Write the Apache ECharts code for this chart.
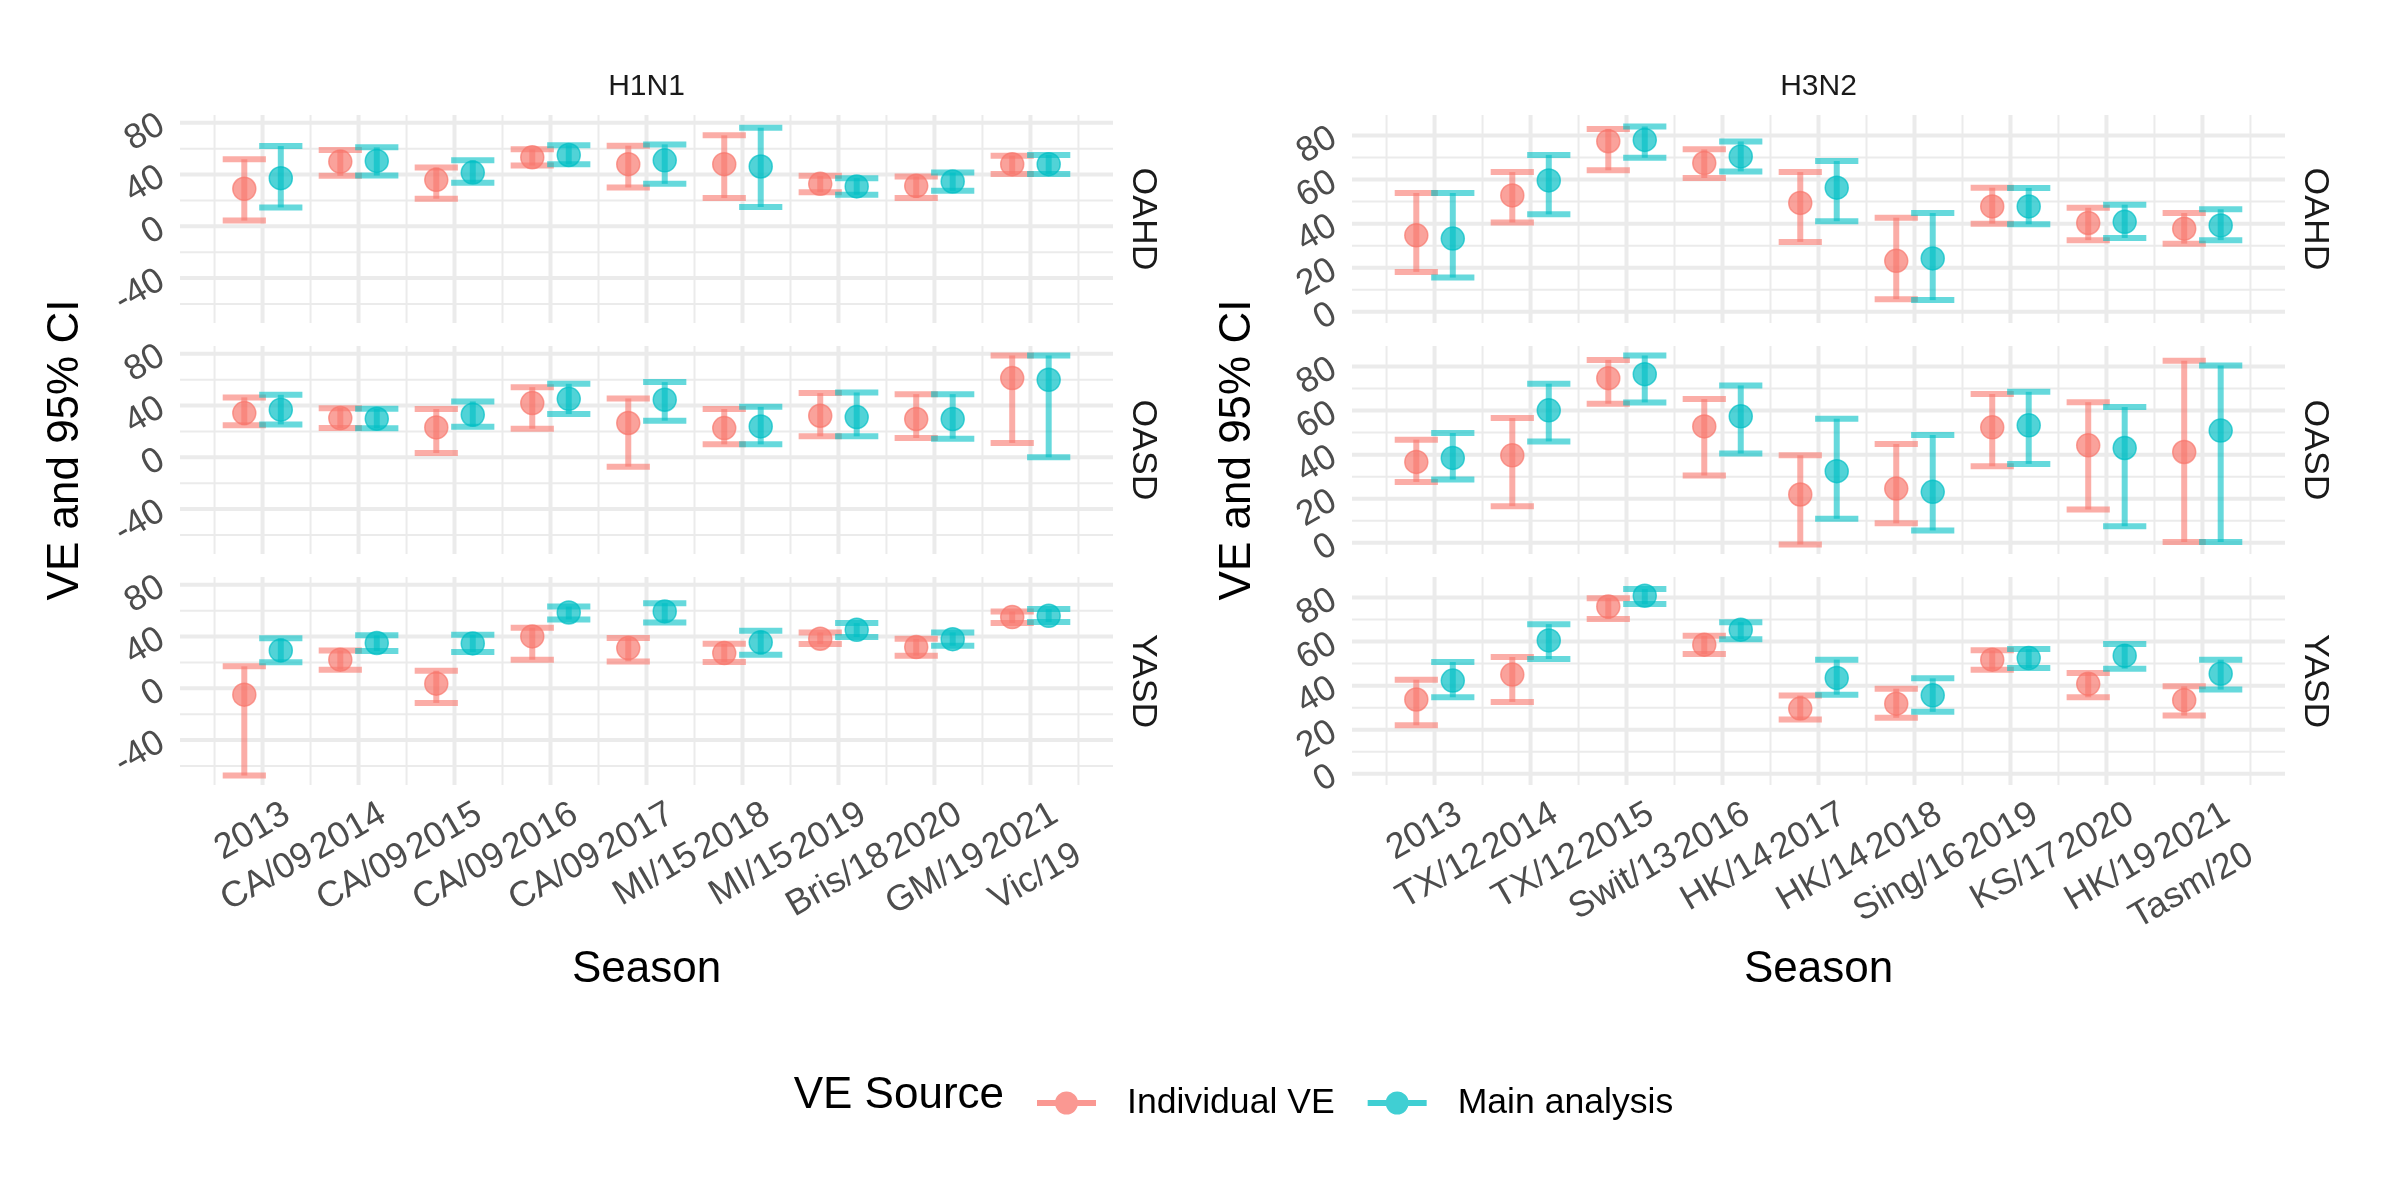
<!DOCTYPE html>
<html>
<head>
<meta charset="utf-8">
<script src="https://cdn.jsdelivr.net/npm/echarts@6/dist/echarts.min.js"></script>
<style>html,body{margin:0;padding:0;background:#fff}#c{width:2400px;height:1200px}</style>
</head>
<body>
<div id="c"></div>
<script>
// ---------- data ----------
const seasonsH1N1 = ['2013\nCA/09','2014\nCA/09','2015\nCA/09','2016\nCA/09','2017\nMI/15','2018\nMI/15','2019\nBris/18','2020\nGM/19','2021\nVic/19'];
const seasonsH3N2 = ['2013\nTX/12','2014\nTX/12','2015\nSwit/13','2016\nHK/14','2017\nHK/14','2018\nSing/16','2019\nKS/17','2020\nHK/19','2021\nTasm/20'];
const subtypes = ['H1N1','H3N2'];
const outcomes = ['OAHD','OASD','YASD'];
const sources = ['Individual VE','Main analysis'];

// [estimate, lower, upper] per season
const h1n1_OAHD_individual = [[29.0,4.4,51.8],[50,39,59],[35.9,21.3,45.4],[53.3,46.9,59.5],[48,30,62.3],[48,21.8,70.3],[32.8,26.4,39],[31.3,21.8,38.5],[48,40.5,54.6]];
const h1n1_OAHD_main       = [[37.2,14.6,62],[50.5,39.2,61],[41.5,33.6,51],[55.1,47.9,62.6],[51,32.8,63.3],[46.2,14.9,76.2],[30.8,24.4,37.2],[34.6,27.4,41.5],[48,40.5,55.1]];
const h1n1_OASD_individual = [[34.2,24.7,46.3],[30.3,22.6,38],[23.1,3.3,37.3],[41.9,22.1,54.2],[26.5,-7.2,45.5],[22.6,10,37.3],[32.1,16.2,49.6],[29.6,14.9,48.8],[61.2,11.1,78.7]];
const h1n1_OASD_main       = [[36.8,25.4,48.3],[29.8,22.4,37.5],[32.9,23.7,43.2],[45.2,33.4,56.8],[44.5,28.3,58.1],[23.9,10,39],[31.1,16.2,50.1],[29.6,14.4,48.8],[59.9,0,78.7]];
const h1n1_YASD_individual = [[-4.9,-67.4,17],[22.1,14.4,29.3],[3.6,-11.3,13.6],[40.1,22.1,46.8],[31.1,20.8,38.8],[27.2,20.3,34.4],[38.3,34.2,43.2],[31.9,25.2,38.3],[55,50.4,59.4]];
const h1n1_YASD_main       = [[29.3,20.1,38.6],[35,28.8,40.9],[34.7,28,41.4],[58.6,53.2,63.2],[59.4,50.9,65.8],[35.5,26,44.5],[45.2,39.6,50.4],[38,32.9,43.2],[56,51.2,61.2]];

const h3n2_OAHD_individual = [[34.7,18.1,53.9],[52.8,40.5,63.4],[77.4,64.2,83],[67.5,60.7,73.7],[49.4,31.7,63.4],[23.1,5.7,42.7],[47.8,40,56.3],[40.3,32.5,47.2],[37.7,30.9,44.8]];
const h3n2_OAHD_main       = [[33.2,15.5,53.9],[59.6,44.2,71.2],[78,69.9,84.1],[70.5,63.7,77.3],[56.3,41.1,68.4],[24.2,5.3,44.8],[47.8,39.7,56.2],[40.8,33.5,48.6],[39.2,32.5,46.5]];
const h3n2_OASD_individual = [[36.7,27.6,46.8],[39.7,16.6,56.6],[74.7,63.1,83],[52.8,30.5,65.2],[21.9,-0.8,39.7],[24.6,8.8,44.8],[52.4,34.7,67.5],[44.2,15.1,63.8],[41.2,0.3,82.6]];
const h3n2_OASD_main       = [[38.5,28.7,49.8],[60.1,46,72.2],[76.5,63.7,85],[57.4,40.5,71.4],[32.5,10.9,56.3],[23.1,5.6,48.9],[53.3,35.8,68.5],[43,7.5,61.6],[50.9,0.3,80.5]];
const h3n2_YASD_individual = [[33.7,22,42.7],[45,32.6,53],[75.9,70.2,79.7],[58.6,54.3,62.6],[29.6,24.6,35.5],[31.8,25.4,38.6],[51.8,47.2,56],[40.8,34.7,45.7],[33.4,26.4,39.7]];
const h3n2_YASD_main       = [[42.3,34.7,50.7],[60.5,52.1,67.9],[80.8,77,83.8],[65.4,61.1,68.8],[43.5,35.9,51.8],[35.6,28.1,43.3],[52.5,48,56.6],[53.6,47.7,58.9],[45.4,38.2,51.8]];

// tick labels / breaks
const yTicksH1N1 = [-40, 0, 40, 80];
const yMinorH1N1 = [-60, -20, 20, 60];
const yTicksH3N2 = [0, 20, 40, 60, 80];
const yMinorH3N2 = [10, 30, 50, 70];
const xTicks = [1,2,3,4,5,6,7,8,9];
const xMinor = [0.5,1.5,2.5,3.5,4.5,5.5,6.5,7.5,8.5,9.5];

// ---------- layout / style ----------
const FONT = 'Liberation Sans, Arial, Helvetica, sans-serif';
const COLORS = {'Individual VE': [248,118,109], 'Main analysis': [0,191,196]};
const rgba = (c, a) => `rgba(${c[0]},${c[1]},${c[2]},${a})`;
const DODGE = 0.19, CAP = 0.225;
const colLeft = [180, 1352], PW = 933, PH = 208;
const rowTop = [115, 346, 577];
const yRange = {H1N1: [-74.7, 86], H3N2: [-5.1, 89.3]};

const dataMap = {
  H1N1: {OAHD: [h1n1_OAHD_individual, h1n1_OAHD_main], OASD: [h1n1_OASD_individual, h1n1_OASD_main], YASD: [h1n1_YASD_individual, h1n1_YASD_main]},
  H3N2: {OAHD: [h3n2_OAHD_individual, h3n2_OAHD_main], OASD: [h3n2_OASD_individual, h3n2_OASD_main], YASD: [h3n2_YASD_individual, h3n2_YASD_main]}
};
const seasonLabels = {H1N1: seasonsH1N1, H3N2: seasonsH3N2};
const yMajor = {H1N1: yTicksH1N1, H3N2: yTicksH3N2};
const yMinor = {H1N1: yMinorH1N1, H3N2: yMinorH3N2};

const grids = [], xAxes = [], yAxes = [], series = [], graphics = [];

function gridLinesRender(yMaj, yMin) {
  return function (params, api) {
    const cs = params.coordSys;
    const ch = [];
    const hl = (v, w) => { const p = api.coord([1, v]); ch.push({type:'line', shape:{x1:cs.x, y1:p[1], x2:cs.x+cs.width, y2:p[1]}, style:{stroke:'#EBEBEB', lineWidth:w}}); };
    const vl = (v, w) => { const p = api.coord([v, 0]); ch.push({type:'line', shape:{x1:p[0], y1:cs.y, x2:p[0], y2:cs.y+cs.height}, style:{stroke:'#EBEBEB', lineWidth:w}}); };
    yMin.forEach(v => hl(v, 2));
    xMinor.forEach(v => vl(v, 2));
    yMaj.forEach(v => hl(v, 4));
    xTicks.forEach(v => vl(v, 4));
    return {type:'group', children: ch};
  };
}

function errRender(offset, color) {
  return function (params, api) {
    const x = api.value(0) + offset, lo = api.value(2), hi = api.value(3);
    const st = {stroke: rgba(color, 0.6), lineWidth: 6};
    const a = api.coord([x, lo]), b = api.coord([x, hi]);
    const l1 = api.coord([x - CAP, lo]), r1 = api.coord([x + CAP, lo]);
    const l2 = api.coord([x - CAP, hi]), r2 = api.coord([x + CAP, hi]);
    return {type:'group', children:[
      {type:'line', shape:{x1:a[0], y1:a[1], x2:b[0], y2:b[1]}, style: st},
      {type:'line', shape:{x1:l1[0], y1:l1[1], x2:r1[0], y2:r1[1]}, style: st},
      {type:'line', shape:{x1:l2[0], y1:l2[1], x2:r2[0], y2:r2[1]}, style: st}
    ]};
  };
}

function xLabelStyle(sub, values) {
  return {
    show: true, customValues: values, rotate: 30, margin: 68,
    showMinLabel: true, showMaxLabel: true, hideOverlap: false,
    padding: [0, -42, 0, 0],
    fontSize: 36, lineHeight: 47, color: '#4D4D4D', fontFamily: FONT,
    formatter: v => seasonLabels[sub][Math.round(v) - 1]
  };
}

subtypes.forEach((sub, c) => {
  outcomes.forEach((out, r) => {
    const g = grids.length;
    grids.push({left: colLeft[c], top: rowTop[r], width: PW, height: PH, outerBoundsMode: 'none', containLabel: false});
    const bottom = r === outcomes.length - 1;
    const xi = xAxes.length;
    const baseX = {
      gridIndex: g, type: 'value', min: 0.14, max: 9.86, position: 'bottom', offset: 0,
      axisLine: {show:false}, axisTick: {show:false}, splitLine: {show:false}
    };
    // odd-numbered seasons on one axis, even-numbered on a twin axis (avoids auto-hiding of rotated labels)
    xAxes.push(Object.assign({}, baseX, {axisLabel: bottom ? xLabelStyle(sub, xTicks.filter(v => v % 2 === 1)) : {show:false}}));
    if (bottom) xAxes.push(Object.assign({}, baseX, {axisLabel: xLabelStyle(sub, xTicks.filter(v => v % 2 === 0))}));
    yAxes.push({
      gridIndex: g, type: 'value', min: yRange[sub][0], max: yRange[sub][1],
      axisLine: {show:false}, axisTick: {show:false}, splitLine: {show:false},
      axisLabel: {customValues: yMajor[sub], rotate: 30, margin: 18, fontSize: 35.5, color: '#4D4D4D', fontFamily: FONT,
        showMinLabel: true, showMaxLabel: true, hideOverlap: false}
    });
    series.push({
      type: 'custom', xAxisIndex: xi, yAxisIndex: g, z: 0, silent: true,
      renderItem: gridLinesRender(yMajor[sub], yMinor[sub]), data: [[1, 0]]
    });
    sources.forEach((src, s) => {
      const off = s === 0 ? -DODGE : DODGE;
      const rows = dataMap[sub][out][s];
      series.push({
        type: 'custom', name: src, xAxisIndex: xi, yAxisIndex: g, z: 2, silent: true,
        renderItem: errRender(off, COLORS[src]),
        encode: {x: 0, y: [1, 2, 3]},
        data: rows.map((d, i) => [i + 1, d[0], d[1], d[2]])
      });
    });
    sources.forEach((src, s) => {
      const off = s === 0 ? -DODGE : DODGE;
      const rows = dataMap[sub][out][s];
      series.push({
        type: 'scatter', name: src, xAxisIndex: xi, yAxisIndex: g, z: 3, silent: true,
        symbol: 'circle', symbolSize: 23,
        itemStyle: {color: rgba(COLORS[src], 0.85), borderColor: rgba(COLORS[src], 0.85), borderWidth: 1.5},
        data: rows.map((d, i) => [i + 1 + off, d[0]])
      });
    });
    // row strip
    graphics.push({type:'text', x: colLeft[c] + PW + 30, y: rowTop[r] + PH / 2, rotation: -Math.PI / 2,
      style: {text: out, fontSize: 35.6, fontFamily: FONT, fill: '#1A1A1A', align:'center', verticalAlign:'middle', textAlign:'center', textVerticalAlign:'middle'}});
  });
  const cx = colLeft[c] + PW / 2;
  graphics.push({type:'text', x: cx, y: 87,
    style: {text: sub, fontSize: 30, fontFamily: FONT, fill: '#1A1A1A', align:'center', verticalAlign:'middle', textAlign:'center', textVerticalAlign:'middle'}});
  graphics.push({type:'text', x: cx, y: 970,
    style: {text: 'Season', fontSize: 44, fontFamily: FONT, fill: '#000', align:'center', verticalAlign:'middle', textAlign:'center', textVerticalAlign:'middle'}});
  graphics.push({type:'text', x: colLeft[c] - 114.5, y: (rowTop[0] + rowTop[2] + PH) / 2, rotation: Math.PI / 2,
    style: {text: 'VE and 95% CI', fontSize: 44, fontFamily: FONT, fill: '#000', align:'center', verticalAlign:'middle', textAlign:'center', textVerticalAlign:'middle'}});
});

graphics.push({type:'text', x: 1004, y: 1096,
  style: {text: 'VE Source', fontSize: 44, fontFamily: FONT, fill: '#000', align:'right', verticalAlign:'middle', textAlign:'right', textVerticalAlign:'middle'}});

const ICON = 'path://M0,8.5 H59 V14.5 H0 Z M18,11.5 A11.5,11.5 0 1,1 41,11.5 A11.5,11.5 0 1,1 18,11.5 Z';

const option = {
  backgroundColor: '#ffffff',
  animation: false,
  grid: grids, xAxis: xAxes, yAxis: yAxes, series: series, graphic: graphics,
  legend: {
    left: 1037, top: 1085, orient: 'horizontal', padding: 0, selectedMode: false,
    itemWidth: 59, itemHeight: 23, itemGap: 33,
    textStyle: {fontSize: 35.6, color: '#000', fontFamily: FONT, padding: [0, 0, 0, 26]},
    data: sources.map(s => ({name: s, icon: ICON, itemStyle: {color: rgba(COLORS[s], 0.75), borderWidth: 0}}))
  }
};
const chart = echarts.init(document.getElementById('c'), null, {renderer: 'canvas'});
chart.setOption(option);
</script>
</body>
</html>
